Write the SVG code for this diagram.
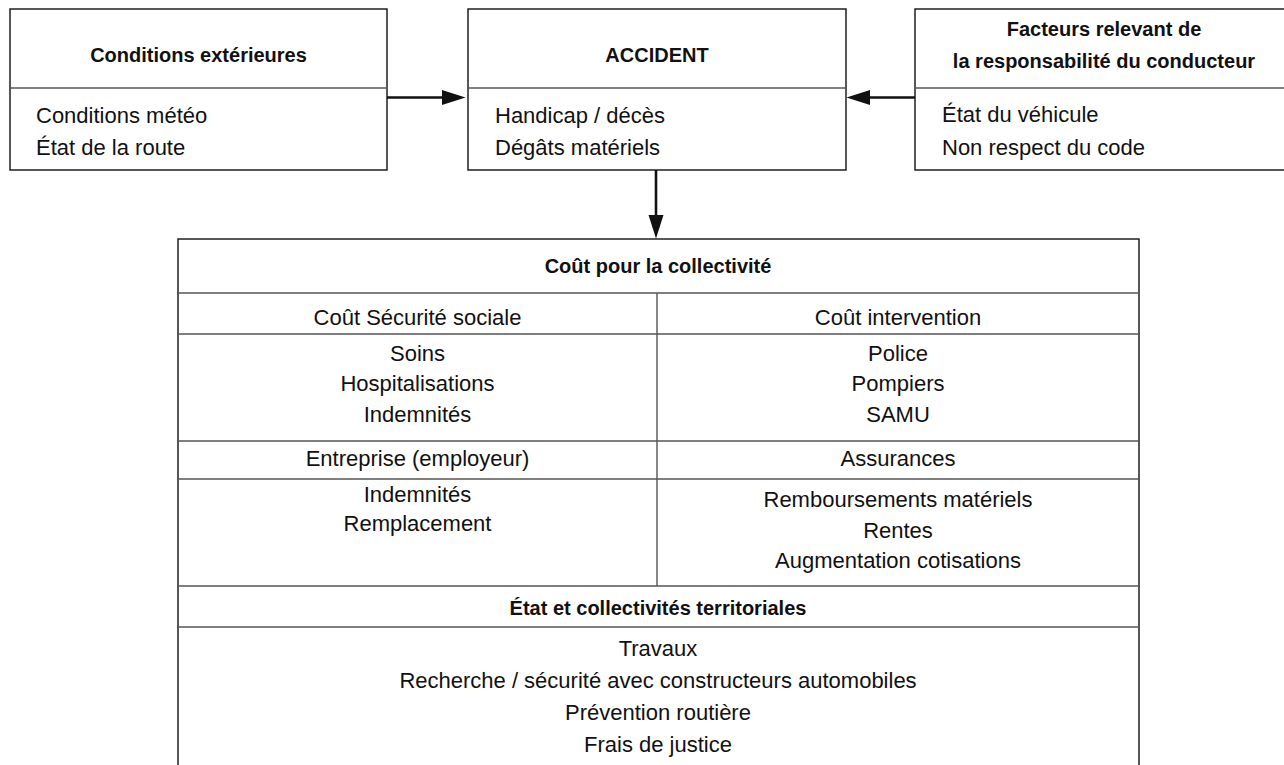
<svg xmlns="http://www.w3.org/2000/svg" width="1284" height="765" viewBox="0 0 1284 765">
<style>
text{font-family:"Liberation Sans",Arial,sans-serif;fill:#111;}
.t{font-size:22px;}
.b{font-size:20px;font-weight:bold;}
.c{text-anchor:middle;}
.box{fill:#fff;stroke:#111;stroke-width:1.4;}
.div{stroke:#555;stroke-width:1.4;fill:none;}
.con{stroke:#111;stroke-width:2.6;fill:none;marker-end:url(#ah);}
</style>
<defs>
<marker id="ah" markerUnits="userSpaceOnUse" markerWidth="24" markerHeight="16" refX="0" refY="7.5" orient="auto" overflow="visible">
<path d="M0,0 L23.5,7.5 L0,15 Z" fill="#111"/>
</marker>
</defs>
<rect width="1284" height="765" fill="#fff"/>
<g id="node-conditions">
<rect class="box" x="10" y="9" width="377" height="161"/>
<line class="div" x1="10" y1="88" x2="387" y2="88"/>
<text class="b c" x="198.5" y="62">Conditions extérieures</text>
<text class="t" x="36" y="123">Conditions météo</text>
<text class="t" x="36" y="155">État de la route</text>
</g>
<g id="node-accident">
<rect class="box" x="468" y="9" width="378" height="161"/>
<line class="div" x1="468" y1="88" x2="846" y2="88"/>
<text class="b c" x="657" y="62">ACCIDENT</text>
<text class="t" x="495" y="123">Handicap / décès</text>
<text class="t" x="495" y="155">Dégâts matériels</text>
</g>
<g id="node-facteurs">
<rect class="box" x="915" y="9" width="380" height="161"/>
<line class="div" x1="915" y1="88" x2="1295" y2="88"/>
<text class="b c" x="1104" y="36">Facteurs relevant de</text>
<text class="b c" x="1104" y="68">la responsabilité du conducteur</text>
<text class="t" x="942" y="122">État du véhicule</text>
<text class="t" x="942" y="155">Non respect du code</text>
</g>
<g id="node-cout">
<rect class="box" x="178" y="239" width="961" height="540"/>
<line class="div" x1="178" y1="293" x2="1139" y2="293"/>
<line class="div" x1="178" y1="334" x2="1139" y2="334"/>
<line class="div" x1="178" y1="441" x2="1139" y2="441"/>
<line class="div" x1="178" y1="479" x2="1139" y2="479"/>
<line class="div" x1="178" y1="586" x2="1139" y2="586"/>
<line class="div" x1="178" y1="627" x2="1139" y2="627"/>
<line class="div" x1="657" y1="293" x2="657" y2="586"/>
<text class="b c" x="658" y="273">Coût pour la collectivité</text>
<text class="t c" x="417.5" y="325">Coût Sécurité sociale</text>
<text class="t c" x="898" y="325">Coût intervention</text>
<text class="t c" x="417.5" y="361">Soins</text>
<text class="t c" x="417.5" y="391">Hospitalisations</text>
<text class="t c" x="417.5" y="422">Indemnités</text>
<text class="t c" x="898" y="361">Police</text>
<text class="t c" x="898" y="391">Pompiers</text>
<text class="t c" x="898" y="422">SAMU</text>
<text class="t c" x="417.5" y="466">Entreprise (employeur)</text>
<text class="t c" x="898" y="466">Assurances</text>
<text class="t c" x="417.5" y="502">Indemnités</text>
<text class="t c" x="417.5" y="531">Remplacement</text>
<text class="t c" x="898" y="507">Remboursements matériels</text>
<text class="t c" x="898" y="538">Rentes</text>
<text class="t c" x="898" y="568">Augmentation cotisations</text>
<text class="b c" x="658" y="615">État et collectivités territoriales</text>
<text class="t c" x="658" y="656">Travaux</text>
<text class="t c" x="658" y="688">Recherche / sécurité avec constructeurs automobiles</text>
<text class="t c" x="658" y="720">Prévention routière</text>
<text class="t c" x="658" y="752">Frais de justice</text>
</g>
<g id="connectors">
<line class="con" x1="387" y1="97.5" x2="442" y2="97.5"/>
<line class="con" x1="915" y1="97.5" x2="870" y2="97.5"/>
<line class="con" x1="656" y1="170" x2="656" y2="215"/>
</g>
</svg>
